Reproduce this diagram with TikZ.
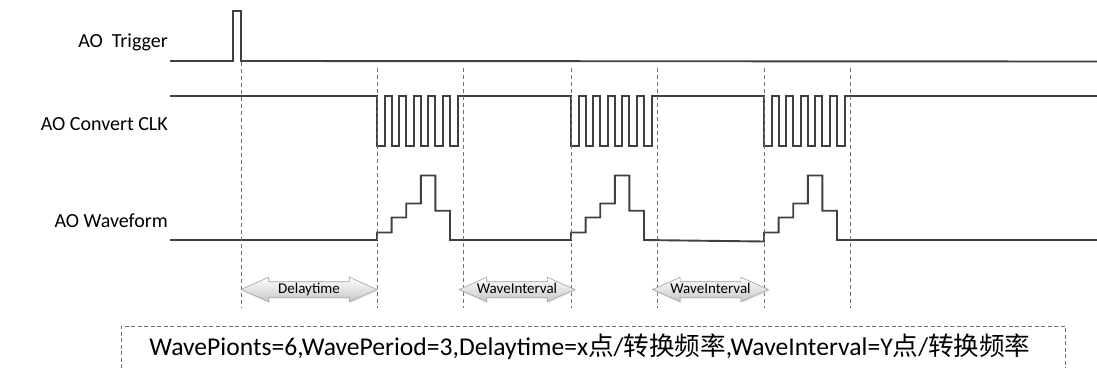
\documentclass[tikz,border=0pt]{standalone}
\usepackage{fontspec}
\setmainfont{Carlito}
\newfontfamily\cjk{Noto Sans CJK SC}
\usetikzlibrary{shapes.arrows,shadows}
\definecolor{sig}{HTML}{404040}
\definecolor{dsh}{HTML}{707070}
\tikzset{
  sigline/.style={draw=sig,line width=1.9pt,line join=miter},
  guide/.style={draw=dsh,line width=0.9pt,dash pattern=on 4pt off 3pt},
  lbl/.style={anchor=base east,font=\fontsize{20}{24}\selectfont,inner sep=0pt},
  span/.style={double arrow,draw=gray!75,line width=0.6pt,top color=white,bottom color=gray!45,
    inner xsep=0pt,inner ysep=1pt,text height=10pt,text depth=3pt,
    double arrow head extend=4.5pt,double arrow tip angle=48,
    font=\fontsize{15}{17}\selectfont,
    drop shadow={shadow xshift=1.5pt,shadow yshift=-1.5pt,fill=gray!25}},
  notebox/.style={draw=dsh,line width=0.9pt,dash pattern=on 4pt off 2.5pt,fill=white}
}
\begin{document}
\begin{tikzpicture}[x=1pt,y=-1pt]
\useasboundingbox (0,0) rectangle (1097,367);
% labels
\node[lbl] (ltrig) at (168,47) {AO\hspace{0.45em}Trigger};
\node[lbl] (lclk) at (168,130) {AO Convert CLK};
\node[lbl] (lwave) at (168,227) {AO Waveform};
% trigger
\draw[sigline] (170,61) -- (233,61) -- (233,11) -- (241,11) -- (241,61) -- (1097,61.5);
% clock
\draw[sigline] (170,96)
  \foreach \x in {377,571,764}{
   -- (\x,96)
   \foreach \k in {0,...,5}{
     -- ({\x+\k*14.6},96) -- ({\x+\k*14.6},146) -- ({\x+\k*14.6+7.6},146) -- ({\x+\k*14.6+7.6},96)
   }
  } -- (1097,96);
% waveform
\draw[sigline] (170,240)
  \foreach \x/\yb/\ye in {377/240/240,571/240/240,764/241.5/240}{
   -- (\x,\yb) -- (\x,232.5) -- ({\x+14.6},232.5) -- ({\x+14.6},217.5)
   -- ({\x+29.2},217.5) -- ({\x+29.2},203.5) -- ({\x+43.8},203.5) -- ({\x+43.8},175.5)
   -- ({\x+58.4},175.5) -- ({\x+58.4},210.7) -- ({\x+73},210.7) -- ({\x+73},\ye)
  } -- (1097,240);
% guides
\coordinate (g0t) at (241,62);
\coordinate (g0b) at (241,308);
\draw[guide] (g0t) -- (g0b);
\foreach \x [count=\i] in {377,463,571,657,764,850}{
  \coordinate (g\i t) at (\x,68);
  \coordinate (g\i b) at (\x,308);
  \draw[guide] (g\i t) -- (g\i b);
}
% spans
\node[span,minimum height=136pt] (delay) at (309,289.5) {Delaytime};
\node[span,minimum height=108pt] (wi1) at (517,289.5) {WaveInterval};
\node[span,minimum height=107pt] (wi2) at (710.5,289.5) {WaveInterval};
% note
\node[notebox,minimum width=944pt,minimum height=50pt,anchor=north west,inner sep=0pt] (note) at (121,325.7) {};
\node[font=\fontsize{25.6}{29}\selectfont,anchor=base,inner sep=0pt] (notetext) at (590,355)
  {WavePionts=6,WavePeriod=3,Delaytime=x{\cjk 点}/{\cjk 转换频率},WaveInterval=Y{\cjk 点}/{\cjk 转换频率}};
\end{tikzpicture}
\end{document}
